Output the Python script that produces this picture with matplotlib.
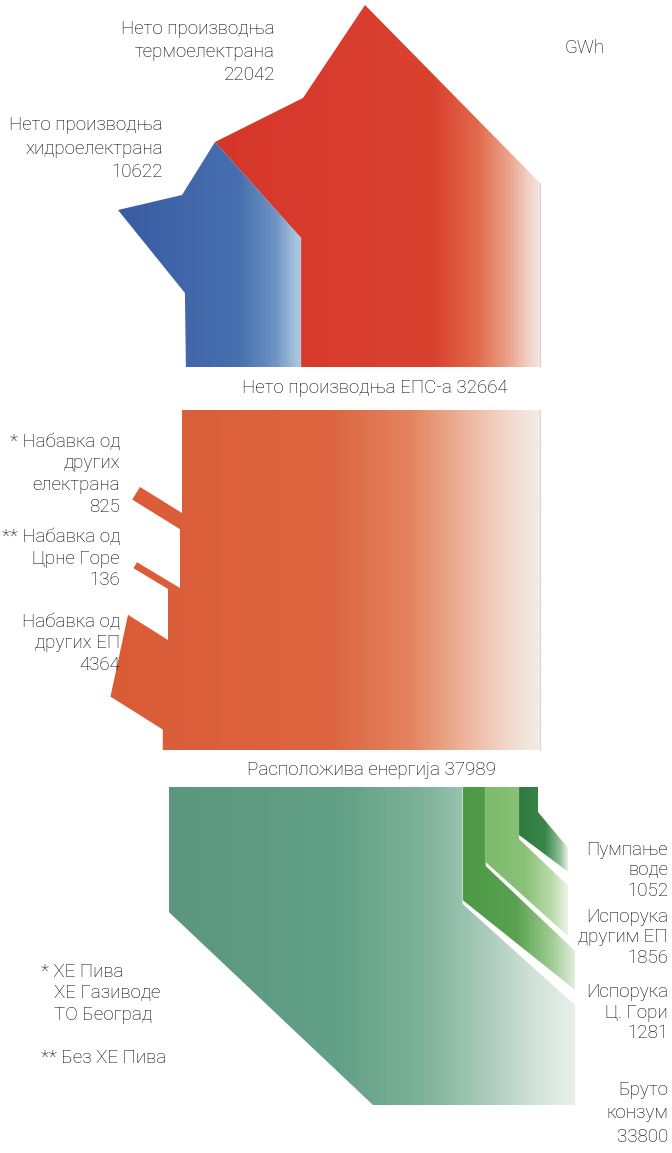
import numpy as np
import matplotlib as mpl
mpl.use('Agg')
import matplotlib.pyplot as plt
from matplotlib.patches import Polygon
from matplotlib.colors import to_rgb

# values (GWh)
production_labels = ["Нето производња\nтермоелектрана", "Нето производња\nхидроелектрана"]
production_values = [22042, 10622]
net_label = "Нето производња ЕПС-а"
net_total = 32664

inflow_labels = ["* Набавка од\nдругих\nелектрана", "** Набавка од\nЦрне Горе", "Набавка од\nдругих ЕП"]
inflow_values = [825, 136, 4364]
available_label = "Расположива енергија"
available_total = 37989

outflow_labels = ["Пумпање\nводе", "Испорука\nдругим ЕП", "Испорука\nЦ. Гори"]
outflow_values = [1052, 1856, 1281]
consumption_label = "Бруто\nконзум"
consumption_total = 33800

unit = "GWh"
notes = ["* ХЕ Пива", "ХЕ Газиводе", "ТО Београд", "** Без ХЕ Пива"]

# scales (px per GWh), picture is not strictly to scale
SCALE_TOP = 0.01084
SCALE_MID = 0.00993
SCALE_BOT = 0.00869
SCALE_SMALL = 0.018
MIN_W = 7
RIGHT = 540

plt.rcParams['font.family'] = ['Roboto', 'DejaVu Sans']
plt.rcParams['font.weight'] = 'light'
TXT = '#000000'
FS = 13.5


def gradient_fill(ax, verts, stops, zorder=1):
    poly = Polygon(verts, closed=True, facecolor='none', edgecolor='none')
    ax.add_patch(poly)
    xs = [v[0] for v in verts]
    ys = [v[1] for v in verts]
    x0, x1 = min(xs), max(xs)
    grid = np.linspace(x0, x1, 400)
    sx = [s[0] for s in stops]
    cols = np.array([to_rgb(s[1]) for s in stops])
    rgb = np.stack([np.interp(grid, sx, cols[:, i]) for i in range(3)], axis=-1)
    im = ax.imshow(rgb[None, :, :], extent=(x0, x1, max(ys), min(ys)),
                   aspect='auto', interpolation='bilinear', zorder=zorder)
    im.set_clip_path(poly)


def label(ax, x, y, lines, pitch, ha='right'):
    for i, line in enumerate(lines):
        ax.text(x, y + i * pitch, line, ha=ha, va='center', fontsize=FS, color=TXT)


def arrow(junction, slope, width, length, cut, next_x):
    xj, yj = junction
    off = width * np.sqrt(1 + slope ** 2)
    ux, uy = xj - length, yj - slope * length
    dx, dy = cut
    t = off / (dy - slope * dx)
    tx, ty = ux + t * dx, uy + t * dy
    ly = yj + slope * (next_x - xj) + off
    return [(ux, uy), (tx, ty), (next_x, ly)]


fig = plt.figure(figsize=(6.72, 11.53), dpi=100)
ax = fig.add_axes([0, 0, 1, 1])

# ---------- top: net production ----------
left_top = RIGHT - net_total * SCALE_TOP
split = left_top + production_values[1] * SCALE_TOP
bot_top = 367
red = [(365, 5), (RIGHT, 183), (RIGHT, bot_top), (split, bot_top), (split, 238),
       (215, 142), (303, 98)]
blue = [(215, 142), (182, 195), (118, 210), (left_top - 1, 293), (left_top, bot_top),
        (split, bot_top), (split, 238)]
gradient_fill(ax, red, [(200, '#d6352a'), (435, '#da4230'), (478, '#e26a4c'),
                        (510, '#eba58d'), (528, '#f1d0c3'), (540, '#f2e4e0')])
gradient_fill(ax, blue, [(118, '#3a5ba3'), (240, '#4770af'), (275, '#6f94c4'),
                         (295, '#a6c1dc'), (305, '#bdd2e4')])
ax.plot([RIGHT, RIGHT], [183, bot_top], color='#ddd3cf', lw=0.8)

label(ax, 275, 29, production_labels[0].split('\n') + [str(production_values[0])], 23)
label(ax, 163, 125, production_labels[1].split('\n') + [str(production_values[1])], 23.5)
ax.text(585, 48, unit, ha='center', va='center', fontsize=FS, color=TXT)
ax.text(508, 388, f"{net_label} {net_total}", ha='right', va='center', fontsize=FS, color=TXT)

# ---------- middle: available energy ----------
top_mid, bot_mid = 410, 750
left_mid = RIGHT - available_total * SCALE_MID
w = [max(v * SCALE_SMALL, MIN_W) for v in inflow_values]
a1 = arrow((182, 513), 0.62, w[0], 42, (-0.62, 1), 180)
a2 = arrow((180, 588), 0.60, w[1], 43, (-0.60, 1), 168)
a3 = arrow((168, 640), 0.63, w[2], 40, (-18, 84), left_mid)
mid = ([(RIGHT, top_mid), (182, top_mid), (182, 513)] + a1 + [(180, 588)] + a2 +
       [(168, 640)] + a3 + [(left_mid, bot_mid), (RIGHT, bot_mid)])
gradient_fill(ax, mid, [(110, '#da5c37'), (330, '#dc6540'), (410, '#e4835f'),
                        (455, '#ebab90'), (492, '#f1cbb9'), (520, '#f3e0d6'),
                        (540, '#f2ebe7')])
ax.plot([RIGHT, RIGHT], [top_mid, bot_mid], color='#ddd3cf', lw=0.8)

inflow_y = [442, 537, 622]
for lab, val, y in zip(inflow_labels, inflow_values, inflow_y):
    label(ax, 120, y, lab.split('\n') + [str(val)], 21.5)
ax.text(496, 770, f"{available_label} {available_total}", ha='right', va='center',
        fontsize=FS, color=TXT)

# ---------- bottom: consumption and deliveries ----------
top_bot, bot_bot = 787, 1105
bw = [v * SCALE_SMALL for v in outflow_values]
x_dark = RIGHT - 2 - bw[0]
x_light = x_dark - bw[1]
x_med = x_light - bw[2]
x_teal = x_med - consumption_total * SCALE_BOT

dark = [(x_dark, top_bot), (RIGHT - 2, top_bot), (RIGHT - 2, 812),
        (568, 812 + 1.2 * (568 - RIGHT + 2)), (568, 835 + 0.75 * (568 - x_dark)),
        (x_dark, 835)]
light = [(x_light, top_bot), (x_dark, top_bot), (x_dark, 839),
         (568, 839 + 0.95 * (568 - x_dark)), (568, 862 + 0.9 * (568 - x_light)),
         (x_light, 862)]
med = [(x_med, top_bot), (x_light, top_bot), (x_light, 866),
       (575, 866 + 0.95 * (575 - x_light)), (575, 900 + 0.8 * (575 - x_med)),
       (x_med, 900)]
teal = [(x_teal, top_bot), (x_med, top_bot), (x_med, 904),
        (575, 904 + 0.9 * (575 - x_med)), (575, bot_bot), (373, bot_bot), (x_teal, 912)]

gradient_fill(ax, teal, [(160, '#5a967d'), (340, '#62a087'), (425, '#7fb39b'),
                         (485, '#a9cbbb'), (532, '#cfe1d7'), (575, '#e9f0ec')])
gradient_fill(ax, med, [(460, '#4b9845'), (515, '#59a250'), (550, '#9ccb8f'),
                        (575, '#e4efdf')])
gradient_fill(ax, light, [(480, '#7bba67'), (525, '#8bc278'), (552, '#bddcae'),
                          (568, '#eef6ea')])
gradient_fill(ax, dark, [(515, '#2d793d'), (545, '#3a8649'), (560, '#8fbf96'),
                         (568, '#e6f0e8')])

out_y = [850, 917, 992]
for lab, val, y in zip(outflow_labels, outflow_values, out_y):
    label(ax, 668, y, lab.split('\n') + [str(val)], 20.5)
label(ax, 668, 1090, consumption_label.split('\n') + [str(consumption_total)], 23.5)

ax.text(41, 972, notes[0], ha='left', va='center', fontsize=FS, color=TXT)
ax.text(54, 993, notes[1], ha='left', va='center', fontsize=FS, color=TXT)
ax.text(54, 1015, notes[2], ha='left', va='center', fontsize=FS, color=TXT)
ax.text(41, 1058, notes[3], ha='left', va='center', fontsize=FS, color=TXT)

ax.set_xlim(0, 672)
ax.set_ylim(1153, 0)
ax.axis('off')
fig.savefig('out.png', dpi=100, facecolor='white')
